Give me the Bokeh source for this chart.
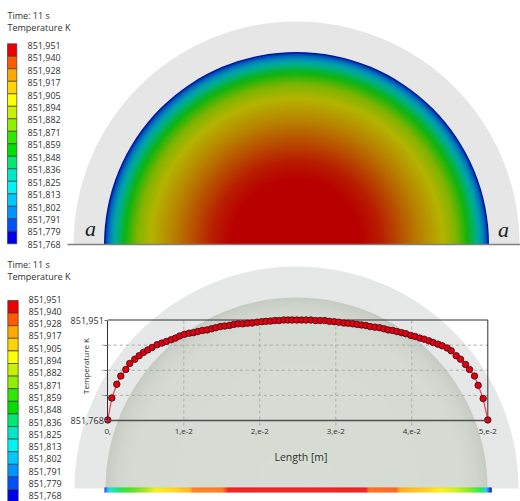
from bokeh.plotting import figure
from bokeh.embed import file_html
from bokeh.resources import INLINE
from bokeh.core.properties import value
from bokeh.models import Range1d, LinearAxis, FixedTicker, ColumnDataSource
import math

title_lines = ["Time: 11 s", "Temperature K"]
legend_labels = ["851,951", "851,940", "851,928", "851,917", "851,905", "851,894", "851,882", "851,871", "851,859",
                 "851,848", "851,836", "851,825", "851,813", "851,802", "851,791", "851,779", "851,768"]
legend_colors = ["#ee0000", "#ff5a00", "#ffa800", "#ffd400", "#ffff00", "#c8f000", "#90f000", "#30e800", "#00e000",
                 "#00e874", "#00e8c8", "#00f4f4", "#00c8ff", "#0094ff", "#0050ff", "#0000e8"]

# temperature field: radius (px) -> colour
field_radius = [0, 65, 85, 103, 125, 147, 160, 172, 180, 184, 188, 190.5, 192.5]
field_colors = ["#b80000", "#b80000", "#b81e00", "#b84c00", "#b88400", "#b4b400", "#80b400", "#10b410", "#00b080",
                "#00a0b0", "#0078b8", "#0050b4", "#0010a0"]

shade_radius = [0, 165, 180, 188, 191]
shade_colors = ["#d7ddd5", "#d5dbd3", "#d0d5cd", "#cacfc7", "#c6cbc3"]

bar_pos = [104, 105.5, 107, 110, 118, 130, 145, 155, 175, 190, 192, 222, 228, 366, 368, 396, 399, 425, 440, 455, 470,
           480, 486, 488, 490.5]
bar_colors = ["#0010c0", "#0060e0", "#00b0ff", "#00e0c0", "#00e060", "#30e000", "#a0e000", "#f0f000", "#ffd000",
              "#ffa800", "#ff7000", "#ff6a00", "#f00000", "#f00000", "#ff6000", "#ff5000", "#ffa000", "#ffc800",
              "#ffee00", "#c8f000", "#70e800", "#00e840", "#00d0e0", "#0060e0", "#0000c0"]

# length in mm, temperature in K
length_mm = [0, 0.53, 1.18, 1.71, 2.37, 2.89, 3.55, 4.12, 4.69, 5.26, 5.83, 6.49, 7.11, 7.72, 8.33, 8.90, 9.47, 10.09,
             10.70, 11.27, 11.84, 12.46, 13.07, 13.64, 14.21, 14.82, 15.39, 16.01, 16.58, 17.15, 17.76, 18.38, 18.99,
             19.65, 20.26, 20.83, 21.40, 21.97, 22.54, 23.16, 23.71, 24.26, 24.87, 25.49, 26.10, 26.72, 27.33, 27.94,
             28.56, 29.17, 29.79, 30.40, 31.06, 31.63, 32.25, 32.82, 33.38, 33.95, 34.52, 35.14, 35.75, 36.33, 36.89,
             37.46, 38.03, 38.65, 39.22, 39.87, 40.44, 41.06, 41.63, 42.24, 42.81, 43.43, 44.00, 44.65, 45.18, 45.84,
             46.41, 47.07, 47.59, 48.25, 48.73, 49.39, 50.0]
temperature = [851.769, 851.809, 851.834, 851.849, 851.861, 851.872, 851.8795, 851.886, 851.892, 851.8965, 851.901,
               851.906, 851.909, 851.912, 851.915, 851.918, 851.922, 851.925, 851.927, 851.928, 851.930, 851.932,
               851.933, 851.935, 851.937, 851.939, 851.940, 851.941, 851.943, 851.944, 851.944, 851.945, 851.9455,
               851.947, 851.948, 851.9485, 851.949, 851.950, 851.950, 851.951, 851.951, 851.951, 851.951, 851.951,
               851.951, 851.951, 851.950, 851.950, 851.950, 851.9485, 851.948, 851.947, 851.9455, 851.945, 851.944,
               851.943, 851.942, 851.941, 851.939, 851.938, 851.937, 851.935, 851.933, 851.932, 851.930, 851.928,
               851.926, 851.923, 851.921, 851.918, 851.916, 851.913, 851.910, 851.907, 851.904, 851.900, 851.895,
               851.886, 851.8795, 851.870, 851.861, 851.849, 851.832, 851.808, 851.769]
x_tick_values = [0, 0.01, 0.02, 0.03, 0.04, 0.05]
x_tick_labels = ["0,", "1,e-2", "2,e-2", "3,e-2", "4,e-2", "5,e-2"]
y_tick_values = [851.768, 851.81375, 851.8595, 851.90525, 851.951]
y_tick_labels = ["851,768", "", "", "", "851,951"]

W, H = 520, 501
FONT = "Open Sans"


def Y(px):
    return H - px


def hex2rgb(c):
    return tuple(int(c[i:i + 2], 16) for i in (1, 3, 5))


def lerp_color(pos, stops, colors):
    for i in range(len(stops) - 1):
        if pos <= stops[i + 1]:
            t = (pos - stops[i]) / (stops[i + 1] - stops[i])
            a, b = hex2rgb(colors[i]), hex2rgb(colors[i + 1])
            return "#%02x%02x%02x" % tuple(round(a[k] + (b[k] - a[k]) * t) for k in range(3))
    return colors[-1]


# pixel placement of the chart box inside the picture
BOX_L, BOX_R, BOX_T, BOX_B = 107.3, 487.3, 319.5, 420.0
xs = (x_tick_values[-1] - x_tick_values[0]) / (BOX_R - BOX_L)
ys = (y_tick_values[-1] - y_tick_values[0]) / (BOX_B - BOX_T)

p = figure(width=W, height=H, x_range=Range1d(0, W), y_range=Range1d(0, H), x_axis_type=None, y_axis_type=None,
           toolbar_location=None, output_backend="svg", min_border=0, outline_line_color=None,
           background_fill_color="white", margin=0)
p.grid.visible = False
p.extra_x_ranges["len"] = Range1d(-BOX_L * xs, (W - BOX_L) * xs)
p.extra_y_ranges["temp"] = Range1d(y_tick_values[0] - (H - BOX_B) * ys, y_tick_values[-1] + BOX_T * ys)

CX = 296
# --- upper panel
BASE1 = 244
p.wedge(x=CX, y=Y(BASE1), radius=223, start_angle=0, end_angle=math.pi, fill_color="#e6e6e6", line_color=None)
radii = [192.5 - i for i in range(0, 193)]
p.wedge(x=[CX] * len(radii), y=[Y(BASE1)] * len(radii), radius=radii, start_angle=0, end_angle=math.pi,
        fill_color=[lerp_color(r, field_radius, field_colors) for r in radii], line_color=None)
p.line(x=[67, W], y=[Y(BASE1), Y(BASE1)], line_color="#808080", line_width=1.5)
p.text(x=[90, 503], y=[Y(228), Y(229)], text=["a", "a"], text_font=value("Liberation Serif"),
       text_font_style="italic", text_font_size="22px", text_align="center", text_baseline="middle",
       text_color="#222222")

# --- lower panel
BASE2 = 488
p.wedge(x=CX, y=Y(BASE2), radius=222, start_angle=0, end_angle=math.pi, fill_color="#e6e7e7", line_color=None)
radii2 = [191 - i * 1.5 for i in range(0, 128)]
p.wedge(x=[CX] * len(radii2), y=[Y(BASE2)] * len(radii2), radius=radii2, start_angle=0, end_angle=math.pi,
        fill_color=[lerp_color(r, shade_radius, shade_colors) for r in radii2], line_color=None)
bar_x = [bar_pos[0] + i for i in range(int(bar_pos[-1] - bar_pos[0]) + 1)]
p.quad(left=bar_x, right=[x + 1.2 for x in bar_x], bottom=[Y(492)] * len(bar_x), top=[Y(487)] * len(bar_x),
       fill_color=[lerp_color(x + .5, bar_pos, bar_colors) for x in bar_x], line_color=None)


# --- legends
def legend(title_y, sw_l, sw_r, sw_top, sw_h, lab_x, lab_top, lab_step):
    p.text(x=[7, 7], y=[Y(title_y), Y(title_y + 12)], text=title_lines, text_font=value(FONT), text_font_size="9px",
           text_baseline="middle", text_color="#303030")
    n = len(legend_colors)
    p.quad(left=[sw_l] * n, right=[sw_r] * n, top=[Y(sw_top + i * sw_h) for i in range(n)],
           bottom=[Y(sw_top + (i + 1) * sw_h) for i in range(n)], fill_color=legend_colors, line_color="#3c3c3c",
           line_width=0.7)
    p.text(x=[lab_x] * len(legend_labels), y=[Y(lab_top + i * lab_step) for i in range(len(legend_labels))],
           text=legend_labels, text_font=value(FONT), text_font_size="9px", text_baseline="middle",
           text_color="#303030")


legend(14.7, 7, 16.3, 43.3, 12.5, 27, 44.7, 12.45)
legend(264.3, 7.3, 17.7, 300, 12.6, 28, 298.5, 12.3)

# --- chart
length_m = [v / 1000 for v in length_mm]
src = ColumnDataSource(dict(x=length_m, y=temperature))

grid_kw = dict(x_range_name="len", y_range_name="temp", line_color="#a8aca8", line_dash="3 3", line_width=1)
inner_y = y_tick_values[1:4]
inner_x = x_tick_values[1:5]
p.segment(x0=[-6 * xs] * 3, x1=[x_tick_values[-1]] * 3, y0=inner_y, y1=inner_y, **grid_kw)
p.segment(x0=inner_x, x1=inner_x, y0=[y_tick_values[0] - 5 * ys] * 4, y1=[y_tick_values[-1]] * 4, **grid_kw)

xaxis = LinearAxis(x_range_name="len", y_range_name="temp", fixed_location=y_tick_values[0],
                   ticker=FixedTicker(ticks=x_tick_values),
                   bounds=(x_tick_values[0], x_tick_values[-1]),
                   major_label_overrides=dict(zip(x_tick_values, x_tick_labels)),
                   major_label_text_font=FONT, major_label_text_font_size="8px", major_label_text_color="#303030",
                   major_label_standoff=4, major_tick_out=4, major_tick_in=0, minor_tick_out=0, minor_tick_in=0,
                   major_tick_line_color=None, axis_line_color="#505050", axis_line_width=1.5)
yaxis = LinearAxis(x_range_name="len", y_range_name="temp", fixed_location=x_tick_values[0],
                   ticker=FixedTicker(ticks=y_tick_values),
                   bounds=(y_tick_values[0], y_tick_values[-1]),
                   major_label_overrides=dict(zip(y_tick_values, y_tick_labels)),
                   major_label_text_font=FONT, major_label_text_font_size="9px", major_label_text_color="#303030",
                   major_label_standoff=1, major_tick_out=3, major_tick_in=0, minor_tick_out=0, minor_tick_in=0,
                   major_tick_line_color="#707070", axis_line_color="#303030", axis_line_width=1)
p.add_layout(xaxis, "below")
p.add_layout(yaxis, "left")
p.text(x=[85], y=[Y(365.5)], text=["Temperature K"], angle=math.pi / 2, text_font=value(FONT), text_font_size="8px",
       text_align="center", text_baseline="middle", text_color="#303030")
p.text(x=[300.5], y=[Y(456)], text=["Length [m]"], text_font=value(FONT), text_font_size="10.5px",
       text_align="center", text_baseline="middle", text_color="#303030")
p.line(x=[x_tick_values[0], x_tick_values[-1], x_tick_values[-1]], y=[y_tick_values[-1], y_tick_values[-1],
       y_tick_values[0]], x_range_name="len", y_range_name="temp", line_color="#303030", line_width=1)
p.line(x="x", y="y", source=src, x_range_name="len", y_range_name="temp", line_color="#e84060", line_width=1.2)
p.scatter(x="x", y="y", source=src, x_range_name="len", y_range_name="temp", size=6.5, fill_color="#e00012",
          line_color="#3a0a10", line_width=0.8)

open("out.html", "w").write(file_html(p, INLINE))
